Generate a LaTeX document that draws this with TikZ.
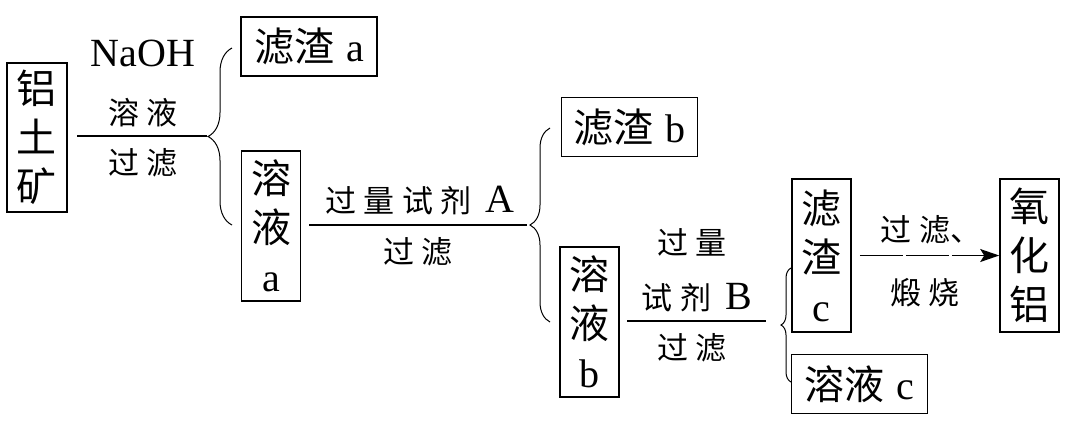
\documentclass[tikz,border=0pt]{standalone}
\usepackage{fontspec}
\setmainfont{Liberation Serif}
\newfontfamily\cjk{Noto Sans CJK SC}
\usepackage{tikz}
\usetikzlibrary{arrows.meta,positioning,decorations.pathreplacing}
\newcommand\zh[1]{{\cjk #1}}
\newcommand\zs[1]{{\cjk\fontsize{15.5}{18}\selectfont #1}}
\newcommand\cg{\hspace{3.8pt}}

\begin{document}
\begin{tikzpicture}[x=0.5pt,y=-0.5pt,
  box/.style={draw,line width=0.8pt,inner sep=0pt,align=center,
    font=\fontsize{20}{24.5}\selectfont},
  vbox/.style={box,minimum width=29.5pt,minimum height=75pt},
  hbox/.style={box,minimum width=68pt,minimum height=29.5pt},
  lab/.style={inner sep=0pt,font=\fontsize{20}{24}\selectfont},
  rline/.style={line width=0.8pt},
  curly/.style={line width=0.5pt,decorate,decoration={brace,amplitude=#1}},
  fwd/.style={line width=0.7pt,dash pattern=on 21.5pt off 1.5pt,
    -{Stealth[length=9.5pt,width=6.5pt,inset=2pt]}}
]
\useasboundingbox (0,0) rectangle (1080,420);
% Step 1: ore with NaOH solution
\node[vbox,minimum width=30pt,minimum height=74.5pt] (ore) at (37,137.5) {\zh{铝}\\\zh{土}\\\zh{矿}};
\coordinate (l1a) at (77,136);
\coordinate (l1b) at (207,136);
\draw[rline] (l1a) -- (l1b);
\node[lab] (naoh) at (143,53) {NaOH};
\node[lab] (sol1) at (143,113) {\zs{溶\cg 液}};
\node[lab] (filt1) at (143,163) {\zs{过\cg 滤}};
\coordinate (c1t) at (232,48);
\coordinate (c1b) at (232,225);
\draw[curly=12pt] (c1b) -- (c1t);
\node[hbox] (resa) at (309,46.5) {\zh{滤渣}\hspace{1pt} a};
\node[vbox] (sola) at (271,226) {\zh{溶}\\\zh{液}\\a};
% Step 2: excess reagent A
\coordinate (l2a) at (309,225);
\coordinate (l2b) at (527,225);
\draw[rline] (l2a) -- (l2b);
\node[lab] (rgA) at (420,200) {\zs{过\cg 量\cg 试\cg 剂}\hspace{2pt} A};
\node[lab] (filt2) at (418,252) {\zs{过\cg 滤}};
\coordinate (c2t) at (550,128);
\coordinate (c2b) at (550,322);
\draw[curly=10pt] (c2b) -- (c2t);
\node[hbox] (resb) at (629.5,127) {\zh{滤渣}\hspace{1pt} b};
\node[vbox] (solb) at (589.5,322) {\zh{溶}\\\zh{液}\\b};
% Step 3: excess reagent B
\coordinate (l3a) at (627,321);
\coordinate (l3b) at (766,321);
\draw[rline] (l3a) -- (l3b);
\node[lab] (xs) at (692,242) {\zs{过\cg 量}};
\node[lab] (rgB) at (697,298) {\zs{试\cg 剂}\hspace{2pt} B};
\node[lab] (filt3) at (692,348) {\zs{过\cg 滤}};
\coordinate (c3t) at (791,268);
\coordinate (c3b) at (791,382);
\draw[curly=5pt] (c3b) -- (c3t);
\node[vbox,minimum height=76.5pt] (resc) at (821.5,255.5) {\zh{滤}\\\zh{渣}\\c};
\node[hbox] (solc) at (859.5,384) {\zh{溶液}\hspace{1pt} c};
% Step 4: calcination
\node[vbox,minimum height=76.5pt] (alu) at (1029.5,255.5) {\zh{氧}\\\zh{化}\\\zh{铝}};
\draw[fwd] ([xshift=4pt]resc.east) -- (alu.west);
\node[lab,anchor=west] (filt4) at (880,230) {\zs{过\cg 滤、}};
\node[lab] (calc) at (925,293) {\zs{煅\cg 烧}};
\end{tikzpicture}
\end{document}
